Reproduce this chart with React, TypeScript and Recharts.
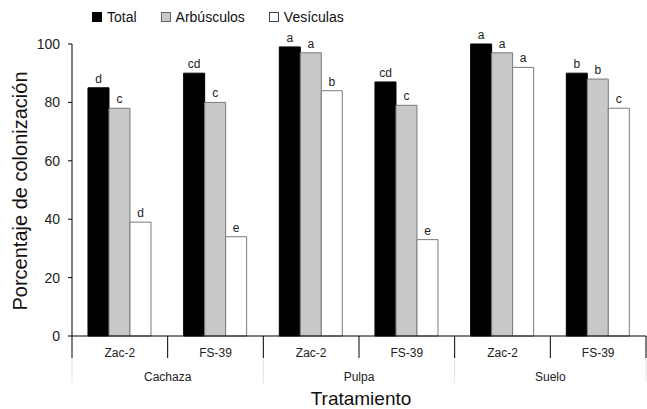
import { BarChart, Bar, XAxis, YAxis, Legend, LabelList } from "recharts";

const cepas = ["Zac-2", "FS-39", "Zac-2", "FS-39", "Zac-2", "FS-39"];
const grupos = ["Cachaza", "Cachaza", "Pulpa", "Pulpa", "Suelo", "Suelo"];
const total = [85, 90, 99, 87, 100, 90];
const arbusculos = [78, 80, 97, 79, 97, 88];
const vesiculas = [39, 34, 84, 33, 92, 78];
const letrasTotal = ["d", "cd", "a", "cd", "a", "b"];
const letrasArb = ["c", "c", "a", "c", "a", "b"];
const letrasVes = ["d", "e", "b", "e", "a", "c"];
const yTicks = [0, 20, 40, 60, 80, 100];

const data = cepas.map((c, i) => ({
  cepa: c,
  grupo: grupos[i],
  total: total[i],
  arb: arbusculos[i],
  ves: vesiculas[i],
  tL: letrasTotal[i],
  aL: letrasArb[i],
  vL: letrasVes[i],
}));

const W = 647;
const H = 409;
const LEFT = 72;
const RIGHT = 1;
const BAND = (W - LEFT - RIGHT) / cepas.length;
const FONT = "'Liberation Sans', Arial, sans-serif";

function CepaTick(props: any) {
  const { x, y, payload, index } = props;
  const last = index === cepas.length - 1;
  return (
    <g>
      <line x1={x - BAND / 2} x2={x - BAND / 2} y1={y} y2={y + 22} stroke="#000" />
      {last && <line x1={x + BAND / 2} x2={x + BAND / 2} y1={y} y2={y + 22} stroke="#000" />}
      <text x={x} y={y + 21} textAnchor="middle" fontSize={12} fill="#222" fontFamily={FONT}>
        {payload.value}
      </text>
    </g>
  );
}

function GrupoTick(props: any) {
  const { x, y, index } = props;
  const last = index === cepas.length - 1;
  return (
    <g>
      {index % 2 === 0 && (
        <line x1={x - BAND / 2} x2={x - BAND / 2} y1={y} y2={y + 25} stroke="#e4e4e4" />
      )}
      {last && <line x1={x + BAND / 2} x2={x + BAND / 2} y1={y} y2={y + 25} stroke="#e4e4e4" />}
      {index % 2 === 1 && (
        <text x={x - BAND / 2} y={y + 23} textAnchor="middle" fontSize={12} fill="#222" fontFamily={FONT}>
          {grupos[index]}
        </text>
      )}
    </g>
  );
}

const legendItems = [
  { name: "Total", fill: "#000", stroke: "#000" },
  { name: "Arbúsculos", fill: "#c8c8c8", stroke: "#666" },
  { name: "Vesículas", fill: "#fff", stroke: "#444" },
];

function LegendBox() {
  return (
    <div style={{ height: 20, display: "flex", alignItems: "center", paddingLeft: 92, fontFamily: FONT, fontSize: 14, color: "#111" }}>
      {legendItems.map((it) => (
        <div key={it.name} style={{ display: "flex", alignItems: "center", marginRight: 24 }}>
          <span style={{ width: 8, height: 8, background: it.fill, border: `1px solid ${it.stroke}`, marginRight: 5, display: "inline-block" }} />
          <span>{it.name}</span>
        </div>
      ))}
    </div>
  );
}

export default function App() {
  return (
    <div style={{ position: "absolute", left: 0, top: 0, width: W, height: H, background: "#fff" }}>
      <BarChart
        width={W}
        height={H}
        data={data}
        margin={{ top: 24, right: RIGHT, left: 0, bottom: 0 }}
        barCategoryGap="16.7%"
        barGap={0}
      >
        <Legend verticalAlign="top" content={() => <LegendBox />} wrapperStyle={{ top: 7, left: 0, width: W }} />
        <XAxis
          dataKey="cepa"
          interval={0}
          height={22}
          tickSize={0}
          tickMargin={0}
          tickLine={false}
          axisLine={{ stroke: "#000" }}
          tick={<CepaTick />}
        />
        <XAxis
          xAxisId="grp"
          dataKey="grupo"
          interval={0}
          height={51}
          tickSize={0}
          tickMargin={0}
          tickLine={false}
          axisLine={false}
          tick={<GrupoTick />}
          label={{
            content: () => (
              <text x={LEFT + (W - LEFT - RIGHT) / 2 + 2} y={405} textAnchor="middle" fontSize={19} fill="#111" fontFamily={FONT}>
                Tratamiento
              </text>
            ),
          }}
        />
        <YAxis
          width={LEFT}
          domain={[0, 100]}
          ticks={yTicks}
          tickSize={4}
          tickMargin={8}
          axisLine={{ stroke: "#000" }}
          tickLine={{ stroke: "#000" }}
          tick={{ fontSize: 14, fill: "#222", fontFamily: FONT }}
          label={{
            content: () => (
              <text x={27} y={191} transform="rotate(-90 27 191)" textAnchor="middle" fontSize={20} fill="#111" fontFamily={FONT}>
                Porcentaje de colonización
              </text>
            ),
          }}
        />
        <Bar dataKey="total" fill="#000" stroke="#000" isAnimationActive={false}>
          <LabelList dataKey="tL" position="top" offset={5} fontSize={12} fill="#222" fontFamily={FONT} />
        </Bar>
        <Bar dataKey="arb" fill="#c8c8c8" stroke="#7a7a7a" isAnimationActive={false}>
          <LabelList dataKey="aL" position="top" offset={5} fontSize={12} fill="#222" fontFamily={FONT} />
        </Bar>
        <Bar dataKey="ves" fill="#fff" stroke="#7a7a7a" isAnimationActive={false}>
          <LabelList dataKey="vL" position="top" offset={5} fontSize={12} fill="#222" fontFamily={FONT} />
        </Bar>
      </BarChart>
    </div>
  );
}
